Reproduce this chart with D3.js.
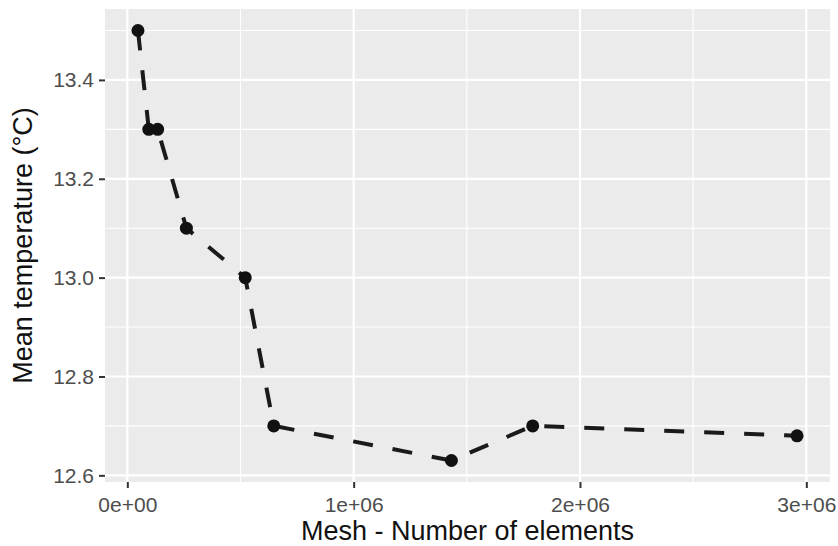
<!DOCTYPE html>
<html>
<head>
<meta charset="utf-8">
<script src="https://cdn.jsdelivr.net/npm/d3@7"></script>
<style>
  html, body { margin: 0; padding: 0; background: #ffffff; }
  svg { display: block; }
  text { font-family: "Liberation Sans", Arial, Helvetica, sans-serif; }
</style>
</head>
<body>
<svg id="chart" width="838" height="546"></svg>
<script>
// Mesh convergence: mean temperature versus number of mesh elements
const meshElements = [47000, 95000, 134000, 261000, 521000, 647000, 1432000, 1791000, 2959000];
const meanTemperature = [13.5, 13.3, 13.3, 13.1, 13.0, 12.7, 12.63, 12.7, 12.68];

const xTicks = [0, 1e6, 2e6, 3e6];
const xTickLabels = ["0e+00", "1e+06", "2e+06", "3e+06"];
const xMinor = [0.5e6, 1.5e6, 2.5e6];
const yTicks = [12.6, 12.8, 13.0, 13.2, 13.4];
const yTickLabels = ["12.6", "12.8", "13.0", "13.2", "13.4"];
const yMinor = [12.7, 12.9, 13.1, 13.3, 13.5];

const xTitle = "Mesh - Number of elements";
const yTitle = "Mean temperature (°C)";

const W = 838, H = 546;
const panel = { left: 105, right: 830, top: 9, bottom: 482 };

// ggplot-style 5% expansion around the data range
function expand(ext) {
  const r = ext[1] - ext[0];
  return [ext[0] - 0.05 * r, ext[1] + 0.05 * r];
}

const x = d3.scaleLinear()
  .domain(expand(d3.extent(meshElements)))
  .range([panel.left, panel.right]);
const y = d3.scaleLinear()
  .domain(expand(d3.extent(meanTemperature)))
  .range([panel.bottom, panel.top]);

const svg = d3.select("#chart");

// panel background
svg.append("rect")
  .attr("x", panel.left).attr("y", panel.top)
  .attr("width", panel.right - panel.left)
  .attr("height", panel.bottom - panel.top)
  .attr("fill", "#EBEBEB");

const grid = svg.append("g");
// minor grid
grid.selectAll("line.xminor").data(xMinor).join("line")
  .attr("x1", d => x(d)).attr("x2", d => x(d))
  .attr("y1", panel.top).attr("y2", panel.bottom)
  .attr("stroke", "#ffffff").attr("stroke-width", 1.1);
grid.selectAll("line.yminor").data(yMinor).join("line")
  .attr("x1", panel.left).attr("x2", panel.right)
  .attr("y1", d => y(d)).attr("y2", d => y(d))
  .attr("stroke", "#ffffff").attr("stroke-width", 1.1);
// major grid
grid.selectAll("line.xmajor").data(xTicks).join("line")
  .attr("x1", d => x(d)).attr("x2", d => x(d))
  .attr("y1", panel.top).attr("y2", panel.bottom)
  .attr("stroke", "#ffffff").attr("stroke-width", 2.2);
grid.selectAll("line.ymajor").data(yTicks).join("line")
  .attr("x1", panel.left).attr("x2", panel.right)
  .attr("y1", d => y(d)).attr("y2", d => y(d))
  .attr("stroke", "#ffffff").attr("stroke-width", 2.2);

// axes
const xAxis = d3.axisBottom(x)
  .tickValues(xTicks)
  .tickFormat((d, i) => xTickLabels[i])
  .tickSize(6).tickPadding(5);
const yAxis = d3.axisLeft(y)
  .tickValues(yTicks)
  .tickFormat((d, i) => yTickLabels[i])
  .tickSize(6).tickPadding(5);

const gx = svg.append("g")
  .attr("transform", `translate(0,${panel.bottom})`)
  .call(xAxis);
const gy = svg.append("g")
  .attr("transform", `translate(${panel.left},0)`)
  .call(yAxis);

[gx, gy].forEach(g => {
  g.select(".domain").remove();
  g.selectAll(".tick line").attr("stroke", "#333333").attr("stroke-width", 2);
  g.selectAll(".tick text")
    .attr("fill", "#4D4D4D")
    .style("font-size", "21px")
    .style("font-family", "'Liberation Sans', Arial, sans-serif");
});
gx.selectAll(".tick text").attr("dy", "0.9em");

// dashed connecting line
const line = d3.line()
  .x((d, i) => x(meshElements[i]))
  .y(d => y(d));
svg.append("path")
  .datum(meanTemperature)
  .attr("d", line)
  .attr("fill", "none")
  .attr("stroke", "#1a1a1a")
  .attr("stroke-width", 4)
  .attr("stroke-dasharray", "20,20");

// points
svg.append("g").selectAll("circle")
  .data(meanTemperature)
  .join("circle")
  .attr("cx", (d, i) => x(meshElements[i]))
  .attr("cy", d => y(d))
  .attr("r", 6.5)
  .attr("fill", "#111111");

// axis titles
svg.append("text")
  .attr("x", (panel.left + panel.right) / 2)
  .attr("y", 540)
  .attr("text-anchor", "middle")
  .attr("fill", "#111111")
  .style("font-size", "27px")
  .text(xTitle);

svg.append("text")
  .attr("transform", `translate(32,${(panel.top + panel.bottom) / 2}) rotate(-90)`)
  .attr("text-anchor", "middle")
  .attr("fill", "#111111")
  .style("font-size", "27px")
  .text(yTitle);
</script>
</body>
</html>
